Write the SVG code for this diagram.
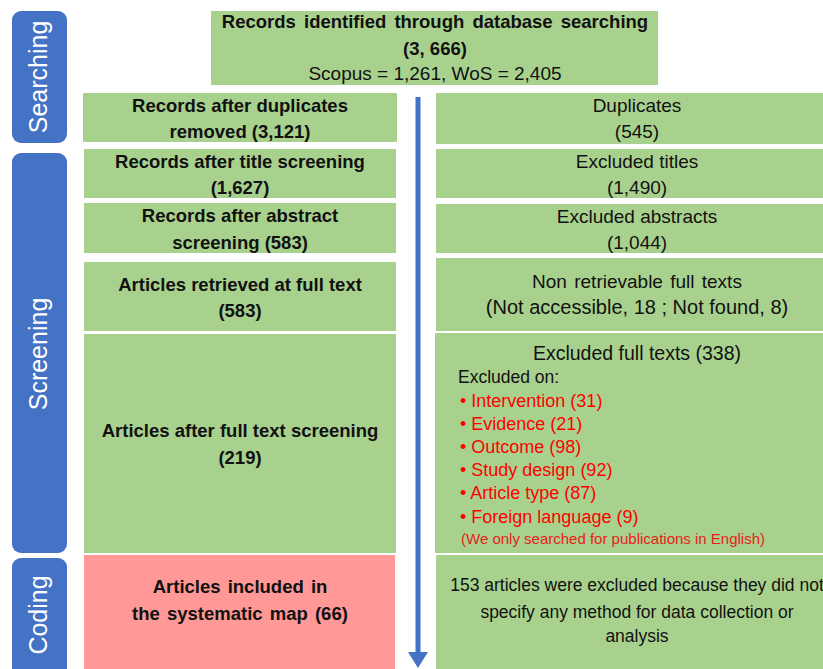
<svg xmlns="http://www.w3.org/2000/svg" width="823" height="669" viewBox="0 0 823 669">
<defs>
<style>
.g{fill:#A9D18E}
.p{fill:#FF9896}
.pill{fill:#4472C4}
text{font-family:"Liberation Sans",Arial,sans-serif;text-anchor:middle;fill:#111}
.b{font-weight:bold;font-size:18.5px}
.r{font-size:19px}
.ph{font-size:25px;fill:#fff}
.lft{text-anchor:start}
.red{fill:#FF0000;font-size:18px;text-anchor:start}
.sm{fill:#E8201A;font-size:15px;text-anchor:start}
.n{font-size:17.5px}
</style>
</defs>
<rect width="823" height="669" fill="#fff"/>
<g id="phase-searching"><rect class="pill" x="12" y="11" width="55" height="132" rx="9"/><text class="ph" transform="translate(47,77) rotate(-90)">Searching</text></g>
<g id="phase-screening"><rect class="pill" x="12" y="153" width="55" height="400" rx="9"/><text class="ph" transform="translate(47,354) rotate(-90)">Screening</text></g>
<g id="phase-coding"><rect class="pill" x="12" y="558" width="55" height="125" rx="9"/><text class="ph" transform="translate(47,615) rotate(-90)">Coding</text></g>

<g id="identified"><rect class="g" x="211" y="11" width="447" height="74"/>
<text class="b" x="435" y="28" word-spacing="3">Records identified through database searching</text>
<text class="b" x="435" y="55">(3, 666)</text>
<text class="r" x="435" y="80">Scopus = 1,261, WoS = 2,405</text></g>

<g id="dedup"><rect class="g" x="83" y="93" width="314" height="49"/>
<text class="b" x="240" y="112">Records after duplicates</text>
<text class="b" x="240" y="138">removed (3,121)</text></g>
<g id="duplicates"><rect class="g" x="436" y="93" width="387" height="51"/>
<text class="r" x="637" y="112">Duplicates</text>
<text class="r" x="637" y="138">(545)</text></g>

<g id="title"><rect class="g" x="84" y="149" width="312" height="49"/>
<text class="b" x="240" y="168">Records after title screening</text>
<text class="b" x="240" y="194">(1,627)</text></g>
<g id="excl-titles"><rect class="g" x="436" y="149" width="387" height="49"/>
<text class="r" x="637" y="168">Excluded titles</text>
<text class="r" x="637" y="194">(1,490)</text></g>

<g id="abstract"><rect class="g" x="84" y="203" width="312" height="50"/>
<text class="b" x="240" y="222">Records after abstract</text>
<text class="b" x="240" y="249">screening (583)</text></g>
<g id="excl-abstracts"><rect class="g" x="436" y="204" width="387" height="49"/>
<text class="r" x="637" y="223">Excluded abstracts</text>
<text class="r" x="637" y="249">(1,044)</text></g>

<g id="retrieved"><rect class="g" x="84" y="262" width="312" height="69"/>
<text class="b" x="240" y="291">Articles retrieved at full text</text>
<text class="b" x="240" y="317">(583)</text></g>
<g id="non-retrievable"><rect class="g" x="436" y="258" width="387" height="73"/>
<text class="r" x="637" y="288" style="word-spacing:2px">Non retrievable full texts</text>
<text class="r" x="637" y="314" style="font-size:20px">(Not accessible, 18 ; Not found, 8)</text></g>

<g id="fulltext"><rect class="g" x="84" y="334" width="312" height="219"/>
<text class="b" x="240" y="437">Articles after full text screening</text>
<text class="b" x="240" y="464">(219)</text></g>
<g id="excl-fulltext"><rect class="g" x="435" y="333" width="388" height="220"/>
<text class="r" x="637" y="360" style="font-size:19.5px">Excluded full texts (338)</text>
<text class="r lft" x="458" y="383" style="font-size:17.5px">Excluded on:</text>
<text class="red" x="460" y="407">• Intervention (31)</text>
<text class="red" x="460" y="430">• Evidence (21)</text>
<text class="red" x="460" y="453">• Outcome (98)</text>
<text class="red" x="460" y="476">• Study design (92)</text>
<text class="red" x="460" y="499">• Article type (87)</text>
<text class="red" x="460" y="523">• Foreign language (9)</text>
<text class="sm" x="461" y="544">(We only searched for publications in English)</text></g>

<g id="included"><rect class="p" x="84" y="555" width="311" height="114"/>
<text class="b" x="240" y="593" style="word-spacing:2px">Articles included in</text>
<text class="b" x="240" y="620" style="word-spacing:2px">the systematic map (66)</text></g>
<g id="excl-coding"><rect class="g" x="436" y="555" width="387" height="114"/>
<text class="n" x="637" y="591">153 articles were excluded because they did not</text>
<text class="n" x="637" y="618">specify any method for data collection or</text>
<text class="n" x="637" y="642">analysis</text></g>

<g id="connectors">
<line x1="418" y1="97" x2="418" y2="654" stroke="#4472C4" stroke-width="5"/>
<polygon points="408,652 428,652 418,668" fill="#4472C4"/>
</g>
</svg>
